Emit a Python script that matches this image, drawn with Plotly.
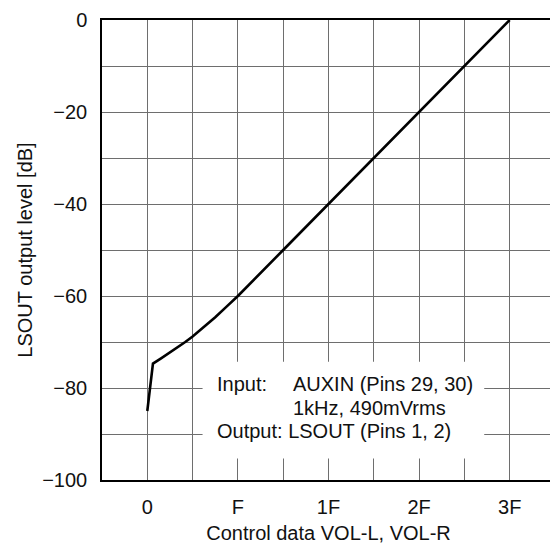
import plotly.graph_objects as go

# Control data position (8 steps per grid division) and output level in dB
control_steps = [0, 1, 2.5, 4, 5.5, 6.7, 8, 10, 12, 14, 16, 24, 32, 40, 48, 56, 64]
output_db = [-85, -74.7, -73.5, -72.3, -71.1, -70, -68.8, -66.8, -64.6, -62.3, -60,
             -50, -40, -30, -20, -10, 0]

x_tick_vals = [0, 16, 32, 48, 64]
x_tick_text = ["0", "F", "1F", "2F", "3F"]
y_tick_vals = [0, -20, -40, -60, -80, -100]

FONT = "Liberation Sans, Arial, sans-serif"
TXT = "#111111"
FS = 20

fig = go.Figure()
fig.add_trace(go.Scatter(
    x=control_steps, y=output_db, mode="lines",
    line=dict(color="black", width=2.6), showlegend=False, hoverinfo="skip",
))

grid_col = "#6e6e6e"
fig.update_xaxes(
    range=[-8, 72], tickmode="array", tickvals=x_tick_vals, ticktext=x_tick_text,
    showgrid=True, gridcolor=grid_col, gridwidth=1,
    minor=dict(tickmode="linear", tick0=-8, dtick=8, showgrid=True, gridcolor=grid_col, gridwidth=1),
    showline=True, linecolor="black", linewidth=1.5, mirror=True,
    ticks="", zeroline=False, ticklabelstandoff=8, ticklabeloverflow="allow",
    tickfont=dict(family=FONT, size=FS, color=TXT),
    title=dict(text="Control data VOL-L, VOL-R", font=dict(family=FONT, size=FS, color=TXT), standoff=9),
)
fig.update_yaxes(
    range=[-100, 0], tickmode="array", tickvals=y_tick_vals,
    showgrid=True, gridcolor=grid_col, gridwidth=1,
    minor=dict(tickmode="linear", tick0=0, dtick=10, showgrid=True, gridcolor=grid_col, gridwidth=1),
    showline=True, linecolor="black", linewidth=1.5, mirror=True,
    ticks="", zeroline=False, ticklabelstandoff=9, ticklabeloverflow="allow",
    tickfont=dict(family=FONT, size=FS, color=TXT),
    title=dict(text="LSOUT output level [dB]", font=dict(family=FONT, size=FS, color=TXT), standoff=4),
)

# white box behind the condition text
fig.add_shape(type="rect", xref="x", yref="y", x0=9.76, x1=59.5, y0=-95.3, y1=-74.3,
              fillcolor="white", line=dict(width=0), layer="above")

ann_font = dict(family=FONT, size=FS, color=TXT)
for x, y, t in [(11.87, -79.2, "Input:"), (25.35, -79.2, "AUXIN (Pins 29, 30)"),
                (25.35, -84.4, "1kHz, 490mVrms"), (11.87, -89.3, "Output: LSOUT (Pins 1, 2)")]:
    fig.add_annotation(x=x, y=y, xref="x", yref="y", text=t, showarrow=False,
                       xanchor="left", yanchor="middle", font=ann_font)

# page body adds an 8px offset, so the figure is 8px smaller than the window
fig.update_layout(
    width=550, height=546,
    margin=dict(l=94, r=1, t=5, b=74),
    paper_bgcolor="white", plot_bgcolor="white",
    font=dict(family=FONT, color=TXT),
)

fig.write_html("out.html")
